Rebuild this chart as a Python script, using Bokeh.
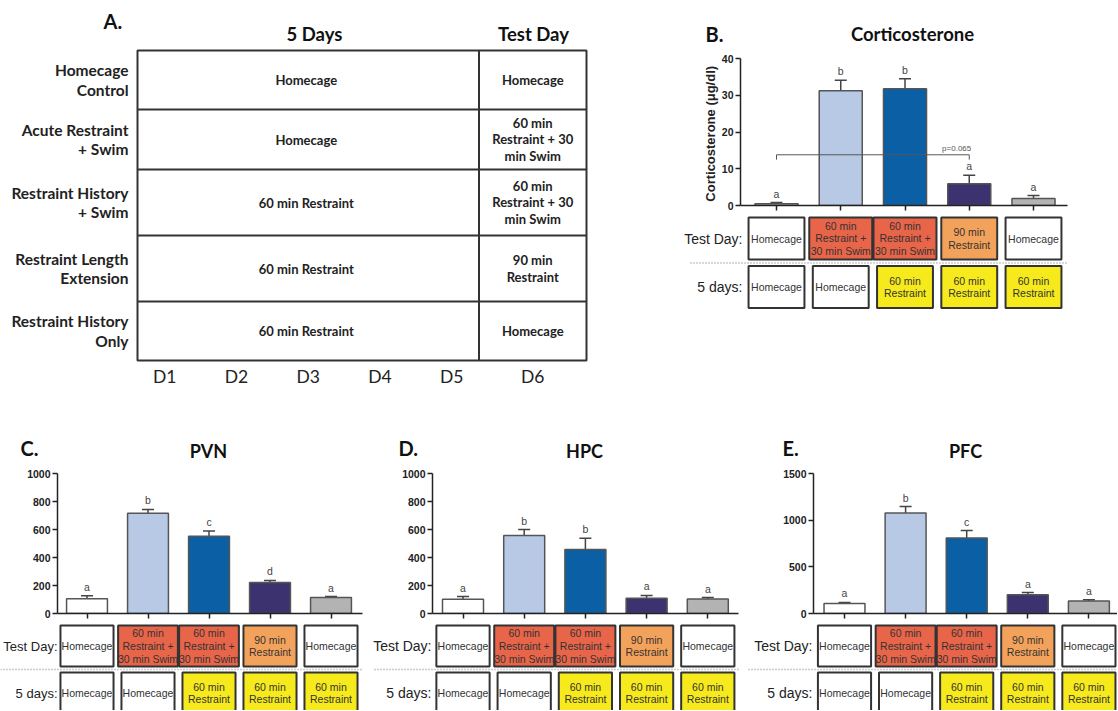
from bokeh.plotting import figure
from bokeh.layouts import row, column
from bokeh.models import Range1d, LinearAxis, FixedTicker, ColumnDataSource, Whisker, TeeHead
from bokeh.core.properties import value
from bokeh.embed import file_html
from bokeh.resources import INLINE

# ---------------- data ----------------
group_labels = ["Homecage\nControl", "Acute Restraint\n+ Swim", "Restraint History\n+ Swim",
                "Restraint Length\nExtension", "Restraint History\nOnly"]
five_day_cells = ["Homecage", "Homecage", "60 min Restraint", "60 min Restraint", "60 min Restraint"]
test_day_cells = ["Homecage", "60 min\nRestraint + 30\nmin Swim", "60 min\nRestraint + 30\nmin Swim",
                  "90 min\nRestraint", "Homecage"]
day_labels = ["D1", "D2", "D3", "D4", "D5", "D6"]

test_day_boxes = ["Homecage", "60 min\nRestraint +\n30 min Swim", "60 min\nRestraint +\n30 min Swim",
                  "90 min\nRestraint", "Homecage"]
five_day_boxes = ["Homecage", "Homecage", "60 min\nRestraint", "60 min\nRestraint", "60 min\nRestraint"]

cort_mean = [0.5, 31.2, 31.8, 5.9, 1.9]
cort_sem = [0.3, 2.9, 2.7, 2.3, 0.8]
cort_letters = ["a", "b", "b", "a", "a"]
cort_ticks = [0, 10, 20, 30, 40]
cort_bracket_groups = [0, 3]
cort_bracket_value = 13.8
cort_bracket_label = "p=0.065"

pvn_mean = [105, 716, 552, 221, 114]
pvn_sem = [21, 27, 38, 15, 7]
pvn_letters = ["a", "b", "c", "d", "a"]
hpc_mean = [102, 557, 457, 109, 104]
hpc_sem = [19, 43, 81, 20, 10]
hpc_letters = ["a", "b", "b", "a", "a"]
pfc_mean = [107, 1078, 810, 200, 135]
pfc_sem = [11, 68, 79, 25, 11]
pfc_letters = ["a", "b", "c", "a", "a"]
region_ticks = [0, 200, 400, 600, 800, 1000]
pfc_ticks = [0, 500, 1000, 1500]

# ---------------- styles ----------------
bar_fill = ["#ffffff", "#b8c9e6", "#0b5fa5", "#3d3270", "#b3b3b3"]
test_fill = ["#ffffff", "#e8654a", "#e8654a", "#f3a25c", "#ffffff"]
five_fill = ["#ffffff", "#ffffff", "#f7ea1c", "#f7ea1c", "#f7ea1c"]
test_box_w = [0.87, 0.98, 0.98, 0.87, 0.87]
five_box_w = [0.87, 0.87, 0.87, 0.87, 0.87]
TITLE_FONT = value("Lato")
ARIAL = value("Liberation Sans")


def blank(width, height, xr, yr, bl=0, br=0, bt=0, bb=0):
    p = figure(width=width, height=height, x_range=xr, y_range=yr,
               x_axis_location=None, y_axis_location=None,
               toolbar_location=None, output_backend="svg",
               min_border_left=bl, min_border_right=br,
               min_border_top=bt, min_border_bottom=bb)
    try:
        p.frame_align = False
    except Exception:
        pass
    p.outline_line_color = None
    p.grid.visible = False
    p.background_fill_color = "white"
    p.border_fill_color = "white"
    return p


# ---------------- panel A ----------------
TOP_H = 433
A_W = 680
pa = blank(A_W, TOP_H, Range1d(0, A_W), Range1d(TOP_H, 0))
tbl_l, tbl_r, tbl_div = 137, 586, 478.5
row_edges = [50, 109, 169, 235, 301, 360]
row_mid = [(row_edges[i] + row_edges[i + 1]) / 2 for i in range(5)]
pa.quad(left=[tbl_l], right=[tbl_r], top=[row_edges[0]], bottom=[row_edges[-1]],
        fill_color=None, line_color="#333", line_width=2)
pa.segment(x0=tbl_l, x1=tbl_r, y0=row_edges[1:-1], y1=row_edges[1:-1], line_color="#333", line_width=2)
pa.segment(x0=[tbl_div], x1=[tbl_div], y0=[row_edges[0]], y1=[row_edges[-1]], line_color="#333", line_width=2)
pa.text(x=128, y=row_mid, text=group_labels, text_align="right", text_baseline="middle",
        text_font=TITLE_FONT, text_font_style="bold", text_font_size="15.5px",
        text_line_height=1.06, text_color="#222")
pa.text(x=(tbl_l + tbl_div) / 2 - 2, y=row_mid, text=five_day_cells, text_align="center",
        text_baseline="middle", text_font=TITLE_FONT, text_font_style="bold",
        text_font_size="13px", text_color="#222")
pa.text(x=(tbl_div + tbl_r) / 2, y=row_mid, text=test_day_cells, text_align="center",
        text_baseline="middle", text_font=TITLE_FONT, text_font_style="bold",
        text_font_size="13px", text_line_height=1.05, text_color="#222")
pa.text(x=[314, 533], y=[33, 33], text=["5 Days", "Test Day"], text_align="center",
        text_baseline="middle", text_font=TITLE_FONT, text_font_style="bold",
        text_font_size="18.5px", text_color="#111")
pa.text(x=[103], y=[20], text=["A."], text_align="left", text_baseline="middle",
        text_font=TITLE_FONT, text_font_style="bold", text_font_size="20px", text_color="#111")
day_step = 71.75
day_x = [(tbl_l + tbl_div) / 2 + (i - 2) * day_step for i in range(5)] + [(tbl_div + tbl_r) / 2]
pa.text(x=day_x, y=376, text=day_labels, text_align="center", text_baseline="middle",
        text_font=TITLE_FONT, text_font_size="17.5px", text_color="#222")


# ---------------- bar panels ----------------
def make_panel(cfg, mean, sem, letters, ticks, ymax, ylabel=None, bracket=None):
    rx0, rx1 = cfg["ref_x"]
    W = rx1 - rx0
    h0, h1 = cfg["header"]
    ft, fb = cfg["frame_y"]
    bb = 8
    bl = cfg["axis_x"] - rx0
    fw = cfg["frame_right"] - cfg["axis_x"]
    br = W - bl - fw
    xr0 = (cfg["axis_x"] - cfg["origin"]) / cfg["spacing"]
    xr1 = (cfg["frame_right"] - cfg["origin"]) / cfg["spacing"]
    u = (xr1 - xr0) / fw
    bx0 = xr0 - bl * u
    bx1 = xr1 + br * u

    def dx(r):
        return bx0 + (r - rx0) * u

    # header
    hd = blank(W, h1 - h0, Range1d(rx0, rx1), Range1d(h1, h0))
    hd.text(x=[cfg["letter_x"]], y=[cfg["letter_y"]], text=[cfg["letter"]], text_align="left",
            text_baseline="middle", text_font=TITLE_FONT, text_font_style="bold",
            text_font_size="20px", text_color="#111")
    hd.text(x=[cfg["title_x"]], y=[cfg["title_y"]], text=[cfg["title"]], text_align="center",
            text_baseline="middle", text_font=TITLE_FONT, text_font_style="bold",
            text_font_size=cfg["title_size"], text_color="#111")

    # bars
    bt = ft - h1
    fh = fb - ft
    p = blank(W, bt + fh + bb, Range1d(xr0, xr1), Range1d(0, ymax), bl=bl, br=br, bt=bt, bb=bb)
    yax = LinearAxis(ticker=FixedTicker(ticks=ticks), axis_label=ylabel,
                     axis_line_width=1.5, axis_line_color="#222",
                     major_tick_out=5, major_tick_in=0, minor_tick_out=0, minor_tick_in=0,
                     major_tick_line_width=1.5, major_tick_line_color="#222",
                     major_label_text_font="Liberation Sans", major_label_text_font_style="bold",
                     major_label_text_font_size="10.5px", major_label_text_color="#222",
                     major_label_standoff=2,
                     axis_label_text_font="Liberation Sans", axis_label_text_font_style="bold",
                     axis_label_text_font_size="13px", axis_label_text_color="#222",
                     axis_label_standoff=1)
    p.add_layout(yax, "left")
    xax = LinearAxis(ticker=FixedTicker(ticks=list(range(len(mean)))),
                     major_label_overrides={i: "" for i in range(len(mean))},
                     major_label_text_font_size="0px", major_label_standoff=0,
                     axis_line_width=1.5, axis_line_color="#222",
                     major_tick_out=5, major_tick_in=0, minor_tick_out=0, minor_tick_in=0,
                     major_tick_line_width=1.5, major_tick_line_color="#222")
    p.add_layout(xax, "below")
    idx = list(range(len(mean)))
    upper = [m + e for m, e in zip(mean, sem)]
    src = ColumnDataSource(dict(x=idx, top=mean, upper=upper, fill=bar_fill, letter=letters))
    p.vbar(x="x", top="top", bottom=0, width=0.67, fill_color="fill", line_color="#555",
           line_width=1.5, source=src)
    p.add_layout(Whisker(source=src, base="x", lower="top", upper="upper", line_color="#444",
                         line_width=1.5, lower_head=None,
                         upper_head=TeeHead(size=12, line_color="#444", line_width=1.5)))
    p.text(x="x", y="upper", text="letter", source=src, text_align="center", text_baseline="bottom",
           y_offset=-3, text_font=ARIAL, text_font_size="10.5px", text_color="#444")
    if bracket is not None:
        g, v, lab = bracket
        drop = ymax * 0.033
        p.line(x=[g[0], g[0], g[1], g[1]], y=[v - drop, v, v, v - drop], line_color="#555", line_width=1)
        p.text(x=[g[1]], y=[v], text=[lab], text_align="right", text_baseline="bottom", y_offset=-2,
               x_offset=2, text_font=ARIAL, text_font_size="8px", text_color="#555")

    # boxes
    top = fb + bb
    bottom = cfg["bottom"]
    q = blank(W, bottom - top, Range1d(bx0, bx1), Range1d(bottom, top))
    ty, sy, fy, bh = cfg["test_y"], cfg["sep_y"], cfg["five_y"], cfg["box_h"]
    q.rect(x=idx, y=ty, width=test_box_w, height=bh, fill_color=test_fill, line_color="#333", line_width=2)
    q.text(x=idx, y=ty, text=test_day_boxes, text_align="center", text_baseline="middle",
           text_font=ARIAL, text_font_size="10.5px", text_line_height=1.05, text_color="#333")
    q.rect(x=idx, y=fy, width=five_box_w, height=bh, fill_color=five_fill, line_color="#333", line_width=2)
    q.text(x=idx, y=fy, text=five_day_boxes, text_align="center", text_baseline="middle",
           text_font=ARIAL, text_font_size="10.5px", text_line_height=1.05, text_color="#333")
    q.segment(x0=[dx(cfg["sep_x0"])], x1=[xr1], y0=[sy], y1=[sy], line_color="#999",
              line_width=1.3, line_dash="1 2")
    q.text(x=[dx(cfg["label_right"])] * 2, y=[ty, fy], text=["Test Day:", "5 days:"],
           text_align="right", text_baseline="middle", text_font=ARIAL,
           text_font_size=cfg["label_size"], text_color="#222")
    return column(hd, p, q, spacing=0)


RIGHT = 1117
BOTTOM = 710
cfgB = dict(ref_x=(A_W, RIGHT), header=(0, 48), letter="B.", letter_x=705, letter_y=33,
            title="Corticosterone", title_x=912, title_y=33, title_size="18.5px",
            axis_x=740, frame_right=1067,
            origin=776, spacing=64.25, frame_y=(58, 205), bottom=TOP_H,
            test_y=238, sep_y=262.5, five_y=286.5, box_h=42, sep_x0=690, label_right=742,
            label_size="14px")

common_bot = dict(header=(TOP_H, 465), letter_y=447, title_y=450, title_size="18px", frame_y=(473, 613),
                  bottom=BOTTOM, test_y=645.5, sep_y=669, five_y=692.5, box_h=41, label_size="14px")
cfgC = dict(common_bot, ref_x=(0, 370), letter="C.", letter_x=20, title="PVN", title_x=208,
            axis_x=57, frame_right=362, origin=86.5, spacing=61.0, sep_x0=0, label_right=57,
            label_size="13px")
cfgD = dict(common_bot, ref_x=(370, 744), letter="D.", letter_x=398, title="HPC", title_x=584,
            axis_x=432, frame_right=738, origin=462.5, spacing=61.2, sep_x0=374, label_right=431)
cfgE = dict(common_bot, ref_x=(744, RIGHT), letter="E.", letter_x=782, title="PFC", title_x=965,
            axis_x=813, frame_right=RIGHT, origin=844, spacing=61.1, sep_x0=748, label_right=812)

panelB = make_panel(cfgB, cort_mean, cort_sem, cort_letters, cort_ticks, 40,
                    ylabel="Corticosterone  (\u03bcg/dl)",
                    bracket=(cort_bracket_groups, cort_bracket_value, cort_bracket_label))
panelC = make_panel(cfgC, pvn_mean, pvn_sem, pvn_letters, region_ticks, 1000)
panelD = make_panel(cfgD, hpc_mean, hpc_sem, hpc_letters, region_ticks, 1000)
panelE = make_panel(cfgE, pfc_mean, pfc_sem, pfc_letters, pfc_ticks, 1500)

layout = column(row(pa, panelB, spacing=0), row(panelC, panelD, panelE, spacing=0), spacing=0)

with open("out.html", "w") as f:
    f.write(file_html(layout, INLINE, title="Stress figure"))
